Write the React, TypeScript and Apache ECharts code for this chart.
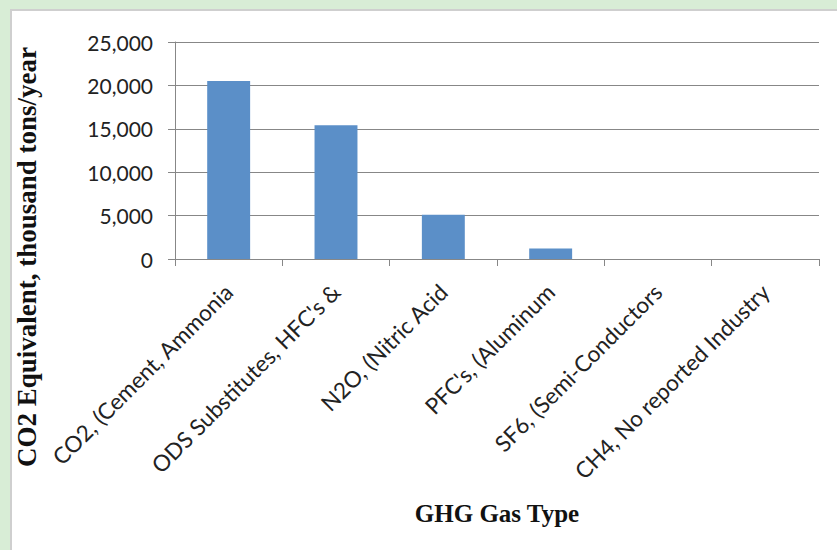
import React, { useEffect, useRef } from "react";
import * as echarts from "echarts";

const categories = [
  "CO2, (Cement, Ammonia",
  "ODS Substitutes, HFC's &",
  "N2O, (Nitric Acid",
  "PFC's, (Aluminum",
  "SF6, (Semi-Conductors",
  "CH4, No reported Industry",
];
const values = [20500, 15400, 5100, 1200, 0, 0];
const yTicks = { min: 0, max: 25000, interval: 5000 };
const yTitle = "CO2 Equivalent, thousand tons/year";
const xTitle = "GHG Gas Type";

export default function App() {
  const ref = useRef<HTMLDivElement>(null);
  useEffect(() => {
    if (!ref.current) return;
    const chart = echarts.init(ref.current, null, { renderer: "svg" });
    chart.setOption({
      animation: false,
      backgroundColor: "transparent",
      grid: { left: 175, top: 42, right: 18, bottom: 291, containLabel: false },
      xAxis: {
        type: "category",
        data: categories,
        boundaryGap: true,
        axisLine: { lineStyle: { color: "#878787", width: 1 } },
        axisTick: { show: true, length: 7, alignWithLabel: false, lineStyle: { color: "#878787" } },
        axisLabel: {
          interval: 0,
          rotate: 45,
          margin: 29,
          fontFamily: "Lato",
          fontSize: 22.5,
          color: "#222",
        },
      },
      yAxis: {
        type: "value",
        min: yTicks.min,
        max: yTicks.max,
        interval: yTicks.interval,
        axisLine: { show: true, lineStyle: { color: "#878787", width: 1 } },
        axisTick: { show: true, length: 7, lineStyle: { color: "#878787" } },
        splitLine: { show: true, lineStyle: { color: "#878787", width: 1 } },
        axisLabel: {
          margin: 22,
          fontFamily: "Lato",
          fontSize: 21,
          color: "#222",
          formatter: (v: number) => v.toLocaleString("en-US"),
        },
      },
      series: [
        {
          type: "bar",
          data: values,
          barWidth: "40%",
          itemStyle: { color: "#5b8fc8" },
        },
      ],
      graphic: [
        {
          type: "text",
          x: 27,
          y: 257,
          rotation: Math.PI / 2,
          style: {
            text: yTitle,
            font: "bold 27px 'Liberation Serif'",
            fill: "#111",
            align: "center",
            verticalAlign: "middle",
          },
        },
        {
          type: "text",
          x: 497,
          y: 513,
          style: {
            text: xTitle,
            font: "bold 25px 'Liberation Serif'",
            fill: "#111",
            align: "center",
            verticalAlign: "middle",
          },
        },
      ],
    });
    return () => chart.dispose();
  }, []);
  return (
    <div style={{ position: "fixed", left: 0, top: 0, width: 837, height: 550, background: "#d8edd6", overflow: "hidden" }}>
      <div
        style={{
          position: "absolute",
          left: 10,
          top: 9,
          width: 827,
          height: 541,
          background: "#ffffff",
          borderLeft: "2px solid #cfcfcf",
          borderTop: "2px solid #cfcfcf",
          boxSizing: "border-box",
        }}
      />
      <div ref={ref} style={{ position: "absolute", left: 0, top: 0, width: 837, height: 550 }} />
    </div>
  );
}
